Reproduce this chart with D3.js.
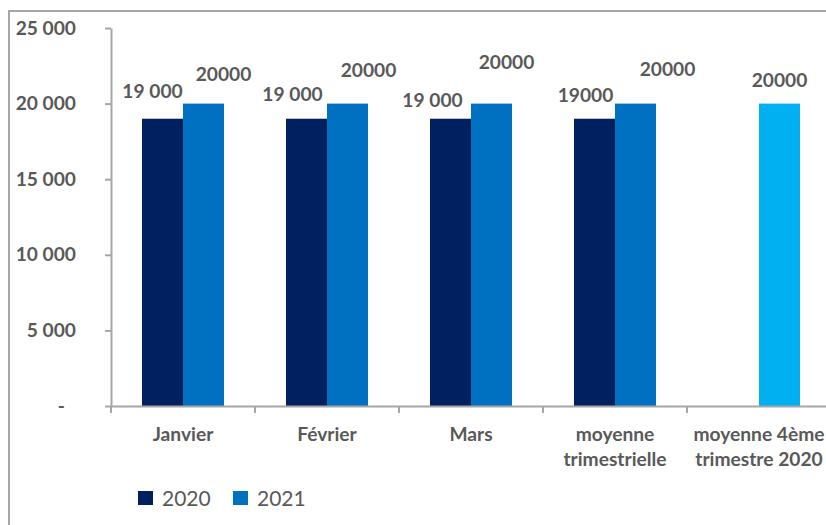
<!DOCTYPE html>
<html>
<head>
<meta charset="utf-8">
<script src="https://cdn.jsdelivr.net/npm/d3@7"></script>
<style>
  html, body { margin: 0; padding: 0; background: #fff; }
  svg { display: block; font-family: Lato, "Open Sans", sans-serif; }
</style>
</head>
<body>
<svg id="chart" width="826" height="525"></svg>
<script>
// ---- data ----
const categories = ["Janvier", "Février", "Mars", "moyenne trimestrielle", "moyenne 4ème trimestre 2020"];
const categoryLines = [["Janvier"], ["Février"], ["Mars"], ["moyenne", "trimestrielle"], ["moyenne 4ème", "trimestre 2020"]];
const series = ["2020", "2021"];
const values2020 = [19000, 19000, 19000, 19000, null];
const values2021 = [20000, 20000, 20000, 20000, 20000];
const labels2020 = ["19 000", "19 000", "19 000", "19000", null];
const labels2021 = ["20000", "20000", "20000", "20000", "20000"];
const yTicks = [0, 5000, 10000, 15000, 20000, 25000];
const yTickLabels = ["-\u2007", "5 000", "10 000", "15 000", "20 000", "25 000"];

// label nudges (dx, dy) relative to bar center / top
const nudge2020 = [[-10, -21], [-14, -18], [-18, -12], [-9, -17], null];
const nudge2021 = [[20, -23], [21, -27], [15, -35], [32, -28], [0, -17]];

// ---- styles ----
const colors = { "2020": "#002060", "2021": "#0070C0" };
const highlightColor = "#00B0F0";
const textColor = "#595959";
const axisColor = "#A6A6A6";
const boldSize = "19.2px";

const svg = d3.select("#chart");

// outer chart frame
svg.append("rect")
  .attr("x", 9).attr("y", 11)
  .attr("width", 900).attr("height", 600)
  .attr("fill", "none").attr("stroke", axisColor).attr("stroke-width", 2);

const x0 = d3.scaleBand().domain(categories).range([111, 831]).padding(0);
const x1 = d3.scaleBand().domain(series).range([0, x0.bandwidth()]).paddingInner(0).paddingOuter(0.756);
const y = d3.scaleLinear().domain([0, 25000]).range([406, 28]);

// y axis
const yAxis = d3.axisLeft(y).tickValues(yTicks)
  .tickFormat((d, i) => yTickLabels[i])
  .tickSizeInner(6).tickSizeOuter(0).tickPadding(29);
const gy = svg.append("g").attr("transform", "translate(111,0)").call(yAxis);
gy.select(".domain").attr("stroke", axisColor).attr("stroke-width", 2);
gy.selectAll(".tick line").attr("stroke", axisColor).attr("stroke-width", 2);
gy.selectAll(".tick text")
  .attr("fill", textColor).style("font-size", boldSize).style("font-weight", "bold")
  .style("font-family", "Lato, sans-serif");

// bars
const rows = categories.map((c, i) => ({ c, i }));
const groups = svg.append("g").selectAll("g").data(rows).join("g")
  .attr("transform", d => `translate(${x0(d.c)},0)`);

groups.each(function (d) {
  const g = d3.select(this);
  const v20 = values2020[d.i], v21 = values2021[d.i];
  const isHighlight = v20 == null;
  if (v20 != null) {
    g.append("rect")
      .attr("x", x1("2020")).attr("width", x1.bandwidth())
      .attr("y", y(v20)).attr("height", y(0) - y(v20))
      .attr("fill", colors["2020"]);
  }
  if (v21 != null) {
    g.append("rect")
      .attr("x", x1("2021")).attr("width", x1.bandwidth())
      .attr("y", y(v21)).attr("height", y(0) - y(v21))
      .attr("fill", isHighlight ? highlightColor : colors["2021"]);
  }
  const labelStyle = sel => sel.attr("text-anchor", "middle").attr("fill", textColor)
    .style("font-size", boldSize).style("font-weight", "bold");
  if (v20 != null && labels2020[d.i]) {
    const n = nudge2020[d.i];
    g.append("text")
      .attr("x", x1("2020") + x1.bandwidth() / 2 + n[0])
      .attr("y", y(v20) + n[1])
      .text(labels2020[d.i]).call(labelStyle);
  }
  if (v21 != null && labels2021[d.i]) {
    const n = nudge2021[d.i];
    g.append("text")
      .attr("x", x1("2021") + x1.bandwidth() / 2 + n[0])
      .attr("y", y(v21) + n[1])
      .text(labels2021[d.i]).call(labelStyle);
  }
});

// x axis
const xAxis = d3.axisBottom(x0).tickSize(0).tickFormat("");
const gx = svg.append("g").attr("transform", `translate(0,${y(0)})`).call(xAxis);
gx.select(".domain").attr("stroke", axisColor).attr("stroke-width", 2);
gx.selectAll(".tick").remove();
// category boundary tick marks
const bounds = categories.map(c => x0(c)).concat([x0.range()[1]]);
gx.selectAll("line.bound").data(bounds).join("line")
  .attr("class", "bound")
  .attr("x1", d => d).attr("x2", d => d)
  .attr("y1", 0).attr("y2", 7)
  .attr("stroke", axisColor).attr("stroke-width", 2);

// category labels
const catG = svg.append("g");
categories.forEach((c, i) => {
  const t = catG.append("text")
    .attr("x", x0(c) + x0.bandwidth() / 2)
    .attr("y", 441)
    .attr("text-anchor", "middle").attr("fill", textColor)
    .style("font-size", boldSize).style("font-weight", "bold");
  categoryLines[i].forEach((line, j) => {
    t.append("tspan").attr("x", x0(c) + x0.bandwidth() / 2)
      .attr("dy", j === 0 ? 0 : 25).text(line);
  });
});

// legend
const legend = svg.append("g");
const legendX = [138, 233];
series.forEach((s, i) => {
  legend.append("rect")
    .attr("x", legendX[i]).attr("y", 491).attr("width", 15).attr("height", 14)
    .attr("fill", colors[s]);
  legend.append("text")
    .attr("x", legendX[i] + 24).attr("y", 506)
    .attr("fill", textColor).style("font-size", "21px")
    .text(s);
});
</script>
</body>
</html>
